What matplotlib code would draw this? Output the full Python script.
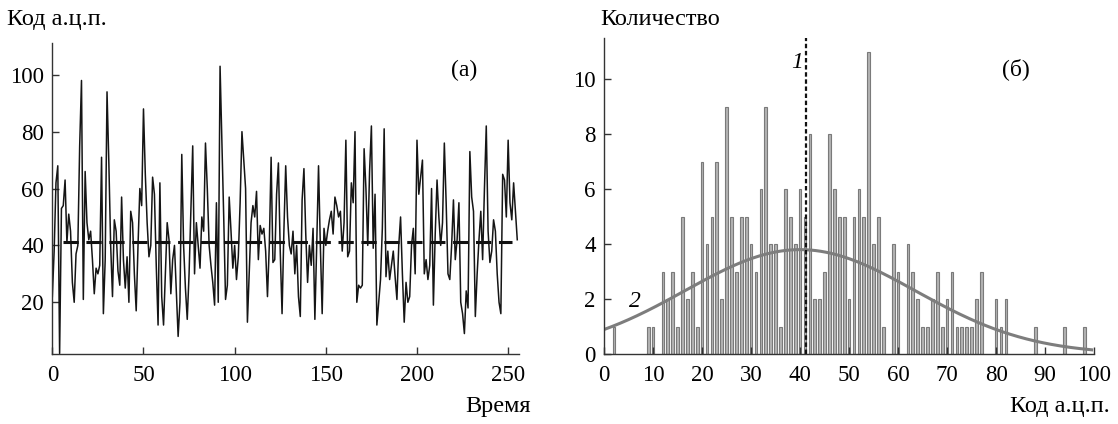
import matplotlib.pyplot as plt
import numpy as np

plt.rcParams['font.family'] = ['Liberation Serif', 'DejaVu Serif']

# (а) signal: ADC code per sample
signal = [
    22, 38, 62, 68, 2, 53, 54, 63, 41, 51, 45, 27, 20, 37, 40, 75,
    98, 21, 66, 48, 42, 45, 35, 23, 32, 30, 33, 71, 16, 35, 94, 69,
    40, 22, 49, 45, 31, 26, 57, 35, 25, 36, 20, 52, 48, 30, 17, 40,
    60, 54, 88, 65, 48, 36, 40, 64, 58, 33, 12, 62, 22, 12, 30, 48,
    42, 23, 35, 40, 24, 8, 20, 72, 40, 25, 14, 30, 52, 75, 30, 48,
    40, 32, 50, 45, 76, 60, 40, 33, 27, 19, 55, 20, 103, 77, 50, 21,
    26, 57, 45, 32, 40, 28, 36, 55, 80, 70, 60, 13, 30, 48, 54, 50,
    59, 35, 47, 44, 46, 38, 22, 40, 71, 34, 35, 58, 69, 38, 16, 45,
    68, 50, 40, 37, 45, 30, 40, 22, 15, 56, 67, 44, 27, 40, 33, 46,
    14, 40, 68, 40, 16, 46, 40, 45, 49, 52, 44, 57, 54, 50, 52, 38,
    48, 77, 36, 38, 62, 55, 80, 20, 26, 25, 26, 74, 60, 40, 66, 82,
    39, 58, 12, 20, 28, 46, 81, 29, 38, 28, 33, 38, 29, 21, 40, 50,
    30, 13, 27, 20, 22, 40, 46, 30, 77, 58, 64, 70, 30, 35, 28, 33,
    60, 19, 44, 63, 50, 40, 48, 76, 55, 30, 28, 40, 56, 35, 42, 55,
    20, 16, 9, 24, 18, 73, 57, 52, 15, 30, 42, 52, 35, 60, 82, 45,
    34, 38, 49, 45, 30, 20, 16, 65, 63, 50, 77, 55, 49, 62, 52, 42,
]
mean_level = 41.3

# (б) histogram: code -> count
codes = [2, 9, 10, 12, 13, 14, 15, 16, 17, 18, 19, 20, 21, 22, 23, 24, 25, 26,
         27, 28, 29, 30, 31, 32, 33, 34, 35, 36, 37, 38, 39, 40, 41, 42, 43, 44,
         45, 46, 47, 48, 49, 50, 51, 52, 53, 54, 55, 56, 57, 59, 60, 62, 63, 64,
         65, 66, 67, 68, 69, 70, 71, 72, 73, 74, 75, 76, 77, 80, 81, 82, 88, 94, 98]
counts = [1, 1, 1, 3, 2, 3, 1, 5, 2, 3, 1, 7, 4, 5, 7, 2, 9, 5,
          3, 5, 5, 4, 3, 6, 9, 4, 4, 1, 6, 5, 4, 6, 5, 8, 2, 2,
          3, 8, 6, 5, 5, 2, 5, 6, 5, 11, 4, 5, 1, 4, 3, 4, 3, 2,
          1, 1, 2, 3, 1, 2, 3, 1, 1, 1, 1, 2, 3, 2, 1, 2, 1, 1, 1]
# fitted normal curve (2)
fit_mean, fit_sigma, fit_peak = 40.0, 23.5, 3.8

fig = plt.figure(figsize=(11.18, 4.24), dpi=100)
ax1 = fig.add_axes([0.0468, 0.165, 0.4175, 0.7344])
ax2 = fig.add_axes([0.5403, 0.165, 0.4383, 0.7453])

for ax in (ax1, ax2):
    for s in ('top', 'right'):
        ax.spines[s].set_visible(False)
    for s in ('left', 'bottom'):
        ax.spines[s].set_color('#333333')
        ax.spines[s].set_linewidth(1.0)
    ax.tick_params(direction='in', length=5, width=1, color='#333333',
                   labelsize=16.5)
    ax.tick_params(axis='x', pad=8)
    ax.tick_params(axis='y', pad=6)

# left panel
t = np.arange(len(signal))
ax1.plot(t, signal, color='#151515', lw=1.1)
ax1.hlines(mean_level, 6, 252, colors='#111111', lw=2.2, linestyles=(0, (5, 2.5)))
ax1.set_xlim(0, 256)
ax1.set_ylim(1.8, 111.3)
ax1.set_xticks([0, 50, 100, 150, 200, 250])
ax1.set_yticks([20, 40, 60, 80, 100])
ax1.text(226, 101.6, '(а)', fontsize=17, ha='center', va='center')

# right panel
ax2.bar(codes, counts, width=0.55, color='#b4b4b4', edgecolor='#7a7a7a', lw=0.8)
xs = np.linspace(0, 99.5, 300)
ax2.plot(xs, fit_peak * np.exp(-(xs - fit_mean) ** 2 / (2 * fit_sigma ** 2)),
         color='#7d7d7d', lw=2.2)
ax2.vlines(mean_level, 0, 11.5, colors='#111111', lw=1.6, linestyles=(0, (2, 1.2)))
ax2.set_xlim(0, 100)
ax2.set_ylim(0, 11.5)
ax2.set_xticks(range(0, 101, 10))
ax2.set_yticks(range(0, 11, 2))
ax2.text(39.4, 10.6, '1', fontsize=17, style='italic', ha='center', va='center')
ax2.text(6.3, 1.93, '2', fontsize=17, style='italic', ha='center', va='center')
ax2.text(84.1, 10.36, '(б)', fontsize=17, ha='center', va='center')

# axis captions
fig.text(0.006, 0.94, 'Код а.ц.п.', fontsize=17.5, ha='left', va='baseline')
fig.text(0.537, 0.94, 'Количество', fontsize=17.5, ha='left', va='baseline')
fig.text(0.475, 0.028, 'Время', fontsize=17.5, ha='right', va='baseline')
fig.text(0.993, 0.028, 'Код а.ц.п.', fontsize=17.5, ha='right', va='baseline')

fig.savefig('out.png', dpi=100)
